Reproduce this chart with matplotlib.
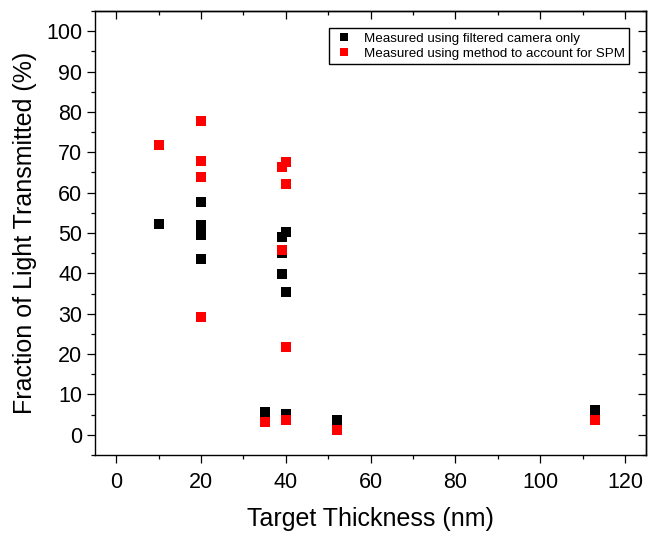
import matplotlib
matplotlib.use("Agg")
import matplotlib.pyplot as plt
from matplotlib.ticker import MultipleLocator

plt.rcParams['font.family'] = ['Liberation Sans', 'DejaVu Sans']

# Data
cam_x = [10, 20, 20, 20, 20, 35, 39, 40, 39, 39, 40, 40, 52, 113]
cam_y = [52.2, 57.8, 51.9, 49.4, 43.5, 5.6, 49.1, 50.3, 45.1, 39.8, 35.5, 5.2, 3.6, 6.1]

spm_x = [10, 20, 20, 20, 20, 35, 39, 40, 40, 39, 40, 40, 52, 113]
spm_y = [71.9, 77.7, 67.9, 63.9, 29.3, 3.2, 66.3, 67.6, 62.1, 45.8, 21.7, 3.7, 1.3, 3.7]

label_cam = "Measured using filtered camera only"
label_spm = "Measured using method to account for SPM"

fig = plt.figure(figsize=(6.48, 5.35), dpi=100)
ax = fig.add_axes([0.1466, 0.1495, 0.8505, 0.8300])

ax.plot(cam_x, cam_y, 's', color='black', markersize=7.7, mew=0, label=label_cam, zorder=3)
ax.plot(spm_x, spm_y, 's', color='red', markersize=7.7, mew=0, label=label_spm, zorder=4)

ax.set_xlim(-5, 125)
ax.set_ylim(-5, 105)
ax.xaxis.set_major_locator(MultipleLocator(20))
ax.xaxis.set_minor_locator(MultipleLocator(10))
ax.yaxis.set_major_locator(MultipleLocator(10))
ax.yaxis.set_minor_locator(MultipleLocator(5))

for s in ax.spines.values():
    s.set_linewidth(1.0)

ax.tick_params(which='major', direction='out', length=6, width=0.9, labelsize=15.5)
ax.tick_params(which='minor', direction='out', length=3, width=0.9)
ax.tick_params(axis='y', which='major', pad=3)
ax.tick_params(axis='x', which='major', pad=6)

# Mirror ticks on top and right, pointing inward
top = ax.secondary_xaxis('top')
top.xaxis.set_major_locator(MultipleLocator(20))
top.xaxis.set_minor_locator(MultipleLocator(10))
top.tick_params(which='major', direction='in', length=6, width=0.9, labeltop=False)
top.tick_params(which='minor', direction='in', length=3, width=0.9)
top.spines['top'].set_linewidth(1.0)

right = ax.secondary_yaxis('right')
right.yaxis.set_major_locator(MultipleLocator(10))
right.yaxis.set_minor_locator(MultipleLocator(5))
right.tick_params(which='major', direction='in', length=6, width=0.9, labelright=False)
right.tick_params(which='minor', direction='in', length=3, width=0.9)
right.spines['right'].set_linewidth(1.0)

ax.set_xlabel("Target Thickness (nm)", fontsize=18, labelpad=10)
ax.set_ylabel("Fraction of Light Transmitted (%)", fontsize=18, labelpad=7)

leg = ax.legend(loc='upper right', fontsize=9.6, frameon=True, fancybox=False,
                edgecolor='black', framealpha=1, borderpad=0.3, handletextpad=0.7,
                handlelength=1.6, labelspacing=0.2, borderaxespad=1.3,
                markerscale=0.75)
leg.get_frame().set_linewidth(1.0)

fig.savefig("out.png", dpi=100)
